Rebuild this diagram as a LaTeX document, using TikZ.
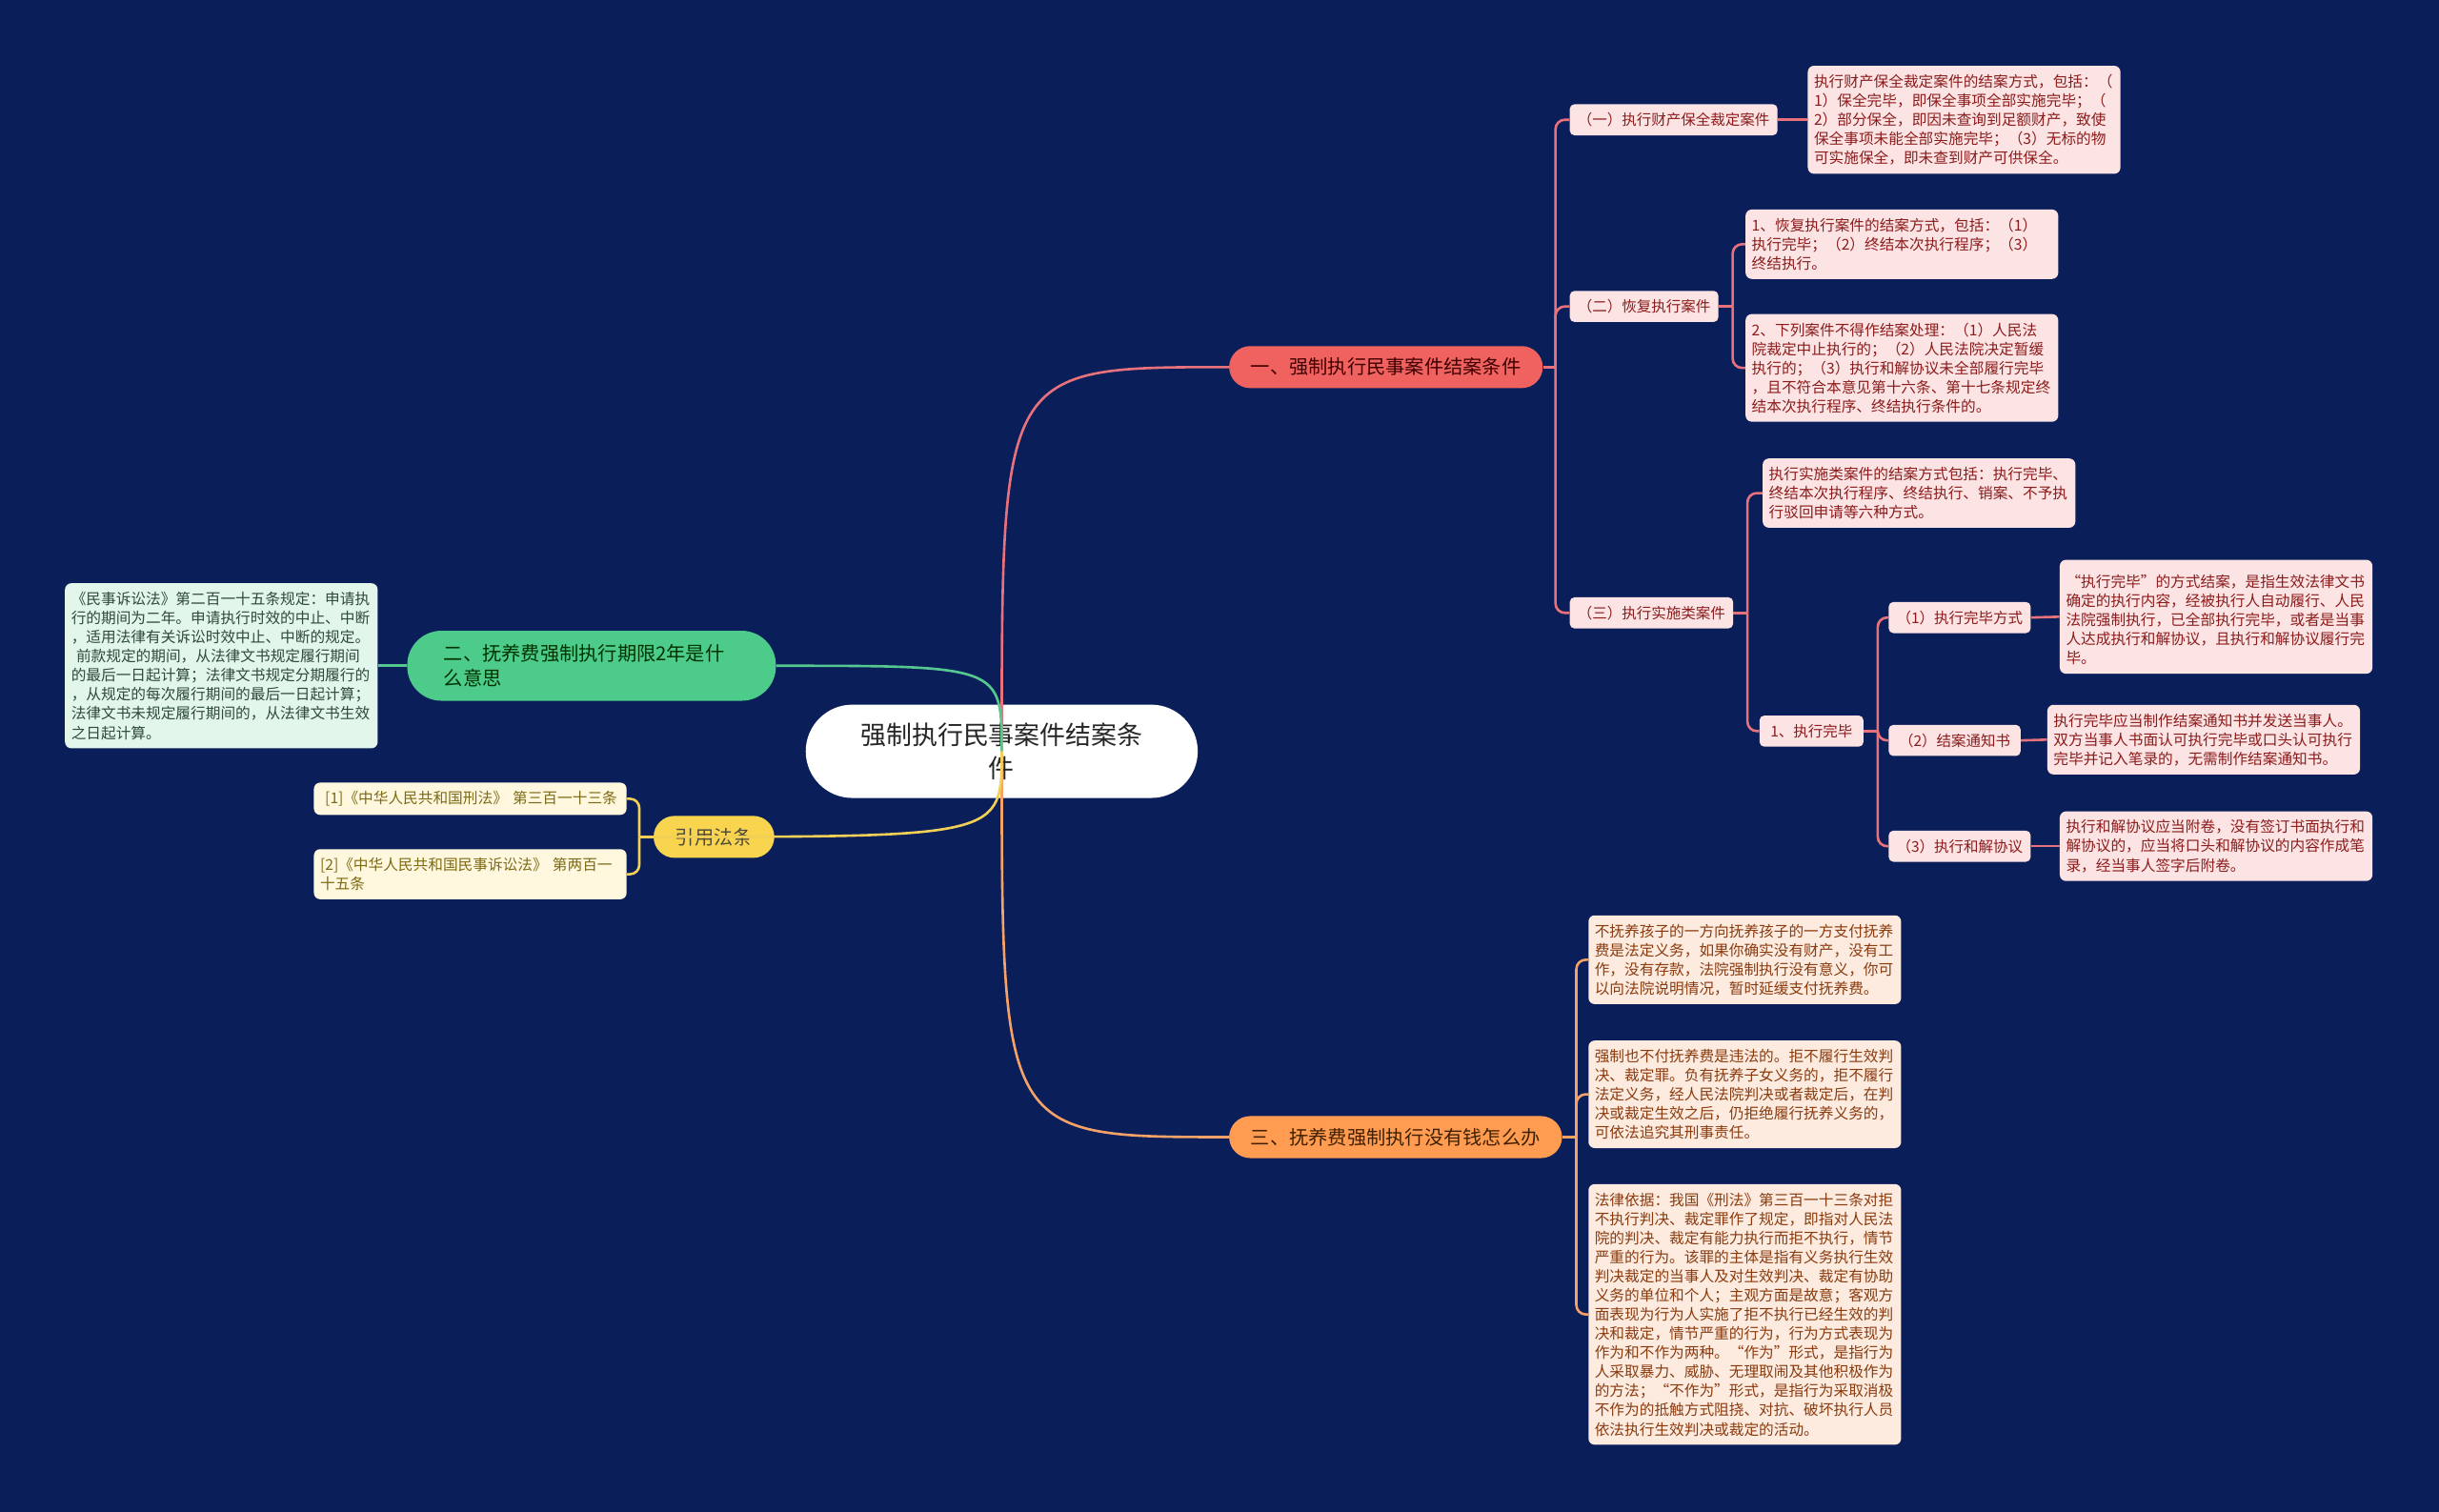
\documentclass[tikz,border=0pt]{standalone}
\usepackage{fontspec}
\setmainfont{Noto Sans CJK SC}
\usepackage{xcolor}
\usepackage{tikz}

\definecolor{navybg}{HTML}{0A1E5A}
\definecolor{redfill}{HTML}{F0625F}
\definecolor{redline}{HTML}{E8727C}
\definecolor{pinkfill}{HTML}{FDE4E4}
\definecolor{pinktext}{HTML}{8C1C1C}
\definecolor{greenfill}{HTML}{4CCB8A}
\definecolor{greenline}{HTML}{55C890}
\definecolor{mintfill}{HTML}{E3F6EC}
\definecolor{minttext}{HTML}{2E4A3C}
\definecolor{yellowfill}{HTML}{F9D44E}
\definecolor{yellowline}{HTML}{F2CF55}
\definecolor{creamfill}{HTML}{FFF8DF}
\definecolor{creamtext}{HTML}{7D6A14}
\definecolor{orangefill}{HTML}{FF9C52}
\definecolor{orangeline}{HTML}{F5A269}
\definecolor{peachfill}{HTML}{FDEBE0}
\definecolor{peachtext}{HTML}{8A3B0E}

\begin{document}
\begin{tikzpicture}[x=1pt, y=-1pt,
  rootnode/.style={fill=white, text=black!85, rounded corners=30pt, minimum width=252pt, minimum height=60pt, align=center, font=\fontsize{16.5pt}{21pt}\selectfont},
  branch/.style={rounded corners=13.5pt, minimum height=27pt, inner xsep=14pt, font=\fontsize{12.4pt}{16pt}\selectfont},
  subnode/.style={fill=pinkfill, text=pinktext, rounded corners=3pt, minimum height=20pt, inner xsep=5pt, inner ysep=2pt, font=\fontsize{9.5pt}{12pt}\selectfont},
  leaf/.style={rounded corners=4pt, text width=193pt, inner xsep=4pt, inner ysep=5.5pt, align=left, font=\fontsize{9.6pt}{12.3pt}\selectfont},
  link/.style={line width=1.6pt},
  elbow/.style={line width=1.6pt, rounded corners=6pt}]

  \fill[navybg] (0,0) rectangle (1568,972);

  % root and main branches
  \node[rootnode] (root) at (644,483) {强制执行民事案件结案条\\件};
  \node[branch, fill=redfill, text=black!75!red, anchor=west] (cond) at (790,236) {一、强制执行民事案件结案条件};
  \node[branch, fill=greenfill, text=black!80!green, anchor=east, text width=190pt, inner xsep=23.5pt, minimum height=45pt, rounded corners=22pt, align=left] (limit) at (499,428) {二、抚养费强制执行期限2年是什\\么意思};
  \node[branch, fill=orangefill, text=black!75!orange, anchor=west] (nomoney) at (790,731) {三、抚养费强制执行没有钱怎么办};
  \node[branch, fill=yellowfill, text=black!80!yellow, anchor=east] (laws) at (498,538) {引用法条};

  % branch one
  \node[subnode, anchor=west] (keep) at (1009,77) {（一）执行财产保全裁定案件};
  \node[subnode, anchor=west] (resume) at (1009,197) {（二）恢复执行案件};
  \node[subnode, anchor=west] (impl) at (1009,394) {（三）执行实施类案件};
  \node[subnode, anchor=west, inner xsep=7pt] (done) at (1131,470) {1、执行完毕};
  \node[subnode, anchor=west] (way) at (1214,397) {（1）执行完毕方式};
  \node[subnode, anchor=west, inner xsep=6.5pt] (notice) at (1214,476) {（2）结案通知书};
  \node[subnode, anchor=west] (deal) at (1214,544) {（3）执行和解协议};

  \node[leaf, fill=pinkfill, text=pinktext, anchor=west] (keeptxt) at (1162,77) {执行财产保全裁定案件的结案方式，包括：（\\1）保全完毕，即保全事项全部实施完毕；（\\2）部分保全，即因未查询到足额财产，致使\\保全事项未能全部实施完毕；（3）无标的物\\可实施保全，即未查到财产可供保全。};
  \node[leaf, fill=pinkfill, text=pinktext, anchor=west] (resumea) at (1122,157) {1、恢复执行案件的结案方式，包括：（1）\\执行完毕；（2）终结本次执行程序；（3）\\终结执行。};
  \node[leaf, fill=pinkfill, text=pinktext, anchor=west] (resumeb) at (1122,236.5) {2、下列案件不得作结案处理：（1）人民法\\院裁定中止执行的；（2）人民法院决定暂缓\\执行的；（3）执行和解协议未全部履行完毕\\，且不符合本意见第十六条、第十七条规定终\\结本次执行程序、终结执行条件的。};
  \node[leaf, fill=pinkfill, text=pinktext, anchor=west] (impltxt) at (1133,317) {执行实施类案件的结案方式包括：执行完毕、\\终结本次执行程序、终结执行、销案、不予执\\行驳回申请等六种方式。};
  \node[leaf, fill=pinkfill, text=pinktext, anchor=west] (waytxt) at (1324,396.5) {\ “执行完毕”的方式结案，是指生效法律文书\\确定的执行内容，经被执行人自动履行、人民\\法院强制执行，已全部执行完毕，或者是当事\\人达成执行和解协议，且执行和解协议履行完\\毕。};
  \node[leaf, fill=pinkfill, text=pinktext, anchor=west] (noticetxt) at (1316,475.5) {执行完毕应当制作结案通知书并发送当事人。\\双方当事人书面认可执行完毕或口头认可执行\\完毕并记入笔录的，无需制作结案通知书。};
  \node[leaf, fill=pinkfill, text=pinktext, anchor=west] (dealtxt) at (1324,544) {执行和解协议应当附卷，没有签订书面执行和\\解协议的，应当将口头和解协议的内容作成笔\\录，经当事人签字后附卷。};

  % branch two
  \node[leaf, fill=mintfill, text=minttext, anchor=east] (limittxt) at (243,428) {《民事诉讼法》第二百一十五条规定：申请执\\行的期间为二年。申请执行时效的中止、中断\\，适用法律有关诉讼时效中止、中断的规定。\\\ 前款规定的期间，从法律文书规定履行期间\\的最后一日起计算；法律文书规定分期履行的\\，从规定的每次履行期间的最后一日起计算；\\法律文书未规定履行期间的，从法律文书生效\\之日起计算。};

  % branch three
  \node[leaf, fill=peachfill, text=peachtext, anchor=west] (duty) at (1021,617) {不抚养孩子的一方向抚养孩子的一方支付抚养\\费是法定义务，如果你确实没有财产，没有工\\作，没有存款，法院强制执行没有意义，你可\\以向法院说明情况，暂时延缓支付抚养费。};
  \node[leaf, fill=peachfill, text=peachtext, anchor=west] (crime) at (1021,703.5) {强制也不付抚养费是违法的。拒不履行生效判\\决、裁定罪。负有抚养子女义务的，拒不履行\\法定义务，经人民法院判决或者裁定后，在判\\决或裁定生效之后，仍拒绝履行抚养义务的，\\可依法追究其刑事责任。};
  \node[leaf, fill=peachfill, text=peachtext, anchor=west] (basis) at (1021,845) {法律依据：我国《刑法》第三百一十三条对拒\\不执行判决、裁定罪作了规定，即指对人民法\\院的判决、裁定有能力执行而拒不执行，情节\\严重的行为。该罪的主体是指有义务执行生效\\判决裁定的当事人及对生效判决、裁定有协助\\义务的单位和个人；主观方面是故意；客观方\\面表现为行为人实施了拒不执行已经生效的判\\决和裁定，情节严重的行为，行为方式表现为\\作为和不作为两种。“作为”形式，是指行为\\人采取暴力、威胁、无理取闹及其他积极作为\\的方法；“不作为”形式，是指行为采取消极\\不作为的抵触方式阻挠、对抗、破坏执行人员\\依法执行生效判决或裁定的活动。};

  % cited laws
  \node[leaf, fill=creamfill, text=creamtext, anchor=east, font=\fontsize{9.6pt}{12.3pt}\selectfont] (law1) at (403,513.5) {\ [1]《中华人民共和国刑法》 第三百一十三条};
  \node[leaf, fill=creamfill, text=creamtext, anchor=east, font=\fontsize{9.6pt}{12.3pt}\selectfont] (law2) at (403,562) {[2]《中华人民共和国民事诉讼法》 第两百一\\十五条};

  % curves out of the root
  \draw[link, redline] (root.center) .. controls (root.center |- cond.west) .. (cond.west);
  \draw[link, orangeline] (root.center) .. controls (root.center |- nomoney.west) .. (nomoney.west);
  \draw[link, greenline] (root.center) .. controls (root.center |- limit.east) .. (limit.east);
  \draw[link, yellowline] (root.center) .. controls (root.center |- laws.west) .. (laws.west);

  % elbows
  \coordinate (condj) at ([xshift=8pt]cond.east);
  \draw[link, redline] (cond.east) -- (condj);
  \foreach \c in {keep,resume,impl}
    \draw[elbow, redline] (condj) |- (\c.west);
  \draw[link, redline] (keep.east) -- (keeptxt.west);

  \coordinate (resumej) at ([xshift=9pt]resume.east);
  \draw[link, redline] (resume.east) -- (resumej);
  \foreach \c in {resumea,resumeb}
    \draw[elbow, redline] (resumej) |- (\c.west);

  \coordinate (implj) at ([xshift=9pt]impl.east);
  \draw[link, redline] (impl.east) -- (implj);
  \foreach \c in {impltxt,done}
    \draw[elbow, redline] (implj) |- (\c.west);

  \coordinate (donej) at ([xshift=9pt]done.east);
  \draw[link, redline] (done.east) -- (donej);
  \foreach \c in {way,notice,deal}
    \draw[elbow, redline] (donej) |- (\c.west);
  \draw[link, redline] (way.east) -- (waytxt.west);
  \draw[link, redline] (notice.east) -- (noticetxt.west);
  \draw[link, redline] (deal.east) -- (dealtxt.west);

  \draw[link, greenline] (limit.west) -- (limittxt.east);

  \coordinate (nomoneyj) at ([xshift=9pt]nomoney.east);
  \draw[link, orangeline] (nomoney.east) -- (nomoneyj);
  \foreach \c in {duty,crime,basis}
    \draw[elbow, orangeline] (nomoneyj) |- (\c.west);

  \coordinate (lawsj) at ([xshift=-9pt]laws.west);
  \draw[link, yellowline] (laws.west) -- (lawsj);
  \foreach \c in {law1,law2}
    \draw[elbow, yellowline] (lawsj) |- (\c.east);
\end{tikzpicture}
\end{document}
